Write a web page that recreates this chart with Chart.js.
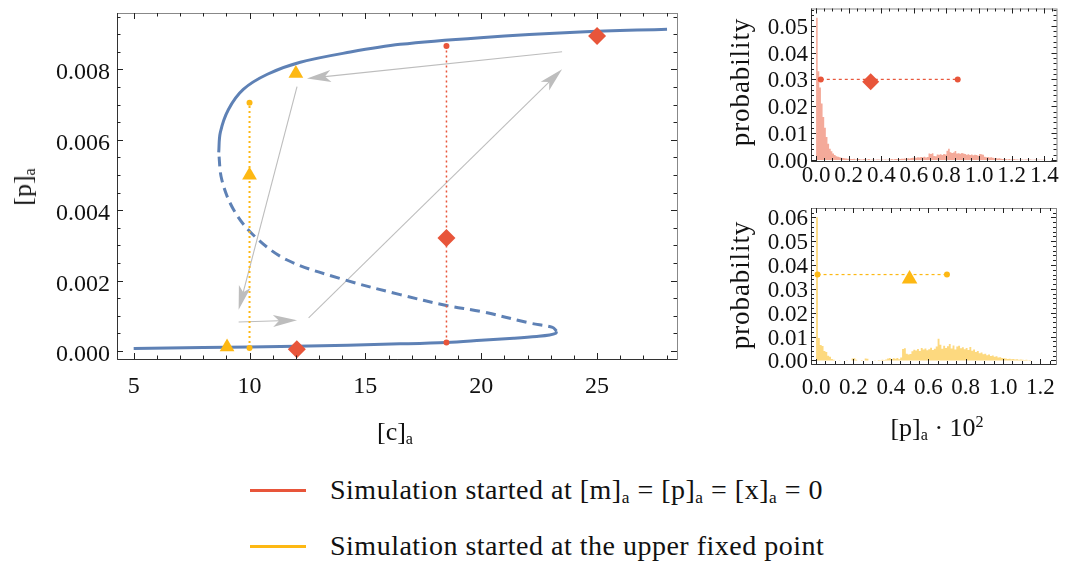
<!DOCTYPE html>
<html>
<head>
<meta charset="utf-8">
<script src="https://cdn.jsdelivr.net/npm/chart.js@4.4.0/dist/chart.umd.min.js"></script>
<style>
  body { margin: 0; background: #fff; }
  #wrap { position: relative; width: 1065px; height: 562px; overflow: hidden;
          font-family: "Liberation Serif", serif; color: #111; }
  canvas { position: absolute; }
  .lbl { position: absolute; font-size: 26px; white-space: nowrap; line-height: 1;
         transform: translate(-50%, -50%); }
  .rot { transform: translate(-50%, -50%) rotate(-90deg); }
  .prob { font-size: 27px; letter-spacing: 0.9px; }
  .tick { position: absolute; white-space: nowrap; line-height: 1; }
  sub { font-size: 0.62em; vertical-align: -0.25em; line-height: 0; }
  sup { font-size: 0.62em; vertical-align: 0.55em; line-height: 0; }
  .sw { position: absolute; left: 250px; width: 56px; height: 3px; }
  .leg { position: absolute; left: 330px; font-size: 28px; letter-spacing: 0.5px; white-space: nowrap;
         line-height: 1; transform: translateY(-50%); }
</style>
</head>
<body>
<div id="wrap">
  <canvas id="main" width="700" height="440" style="left:0;top:0"></canvas>
  <canvas id="histTop" width="345" height="200" style="left:720px;top:0"></canvas>
  <canvas id="histBot" width="345" height="250" style="left:720px;top:195px"></canvas>

  <div class="lbl rot" style="left:23px;top:187px">[p]<sub>a</sub></div>
  <div class="lbl" style="left:395px;top:432px">[c]<sub>a</sub></div>
  <div class="lbl rot prob" style="left:740px;top:82px">probability</div>
  <div class="lbl rot prob" style="left:740px;top:285px">probability</div>
  <div class="lbl" style="left:937px;top:428px">[p]<sub>a</sub> · 10<sup>2</sup></div>

  <div class="sw" style="top:489px;background:#E8553A"></div>
  <div class="leg" style="top:490px">Simulation started at [m]<sub>a</sub> = [p]<sub>a</sub> = [x]<sub>a</sub> = 0</div>
  <div class="sw" style="top:545px;background:#FDB813"></div>
  <div class="leg" style="top:546px">Simulation started at the upper fixed point</div>
</div>

<script>
// ---- data ----
const lowerBranch = [[5.0, 0.00007], [8.0, 0.0001], [12.0, 0.00013], [16.5, 0.0002], [18.5, 0.00024],
  [20.0, 0.0003], [21.4, 0.00036], [22.4, 0.00041], [22.95, 0.00045], [23.22, 0.0005], [23.25, 0.00056]];
const unstableBranch = [[23.25, 0.00056], [23.08, 0.00067], [22.1, 0.00079], [20.0, 0.00112],
  [18.5, 0.00129], [16.5, 0.0016], [14.05, 0.00203], [11.6, 0.00259], [10.15, 0.0033],
  [9.29, 0.00404], [8.8, 0.00487], [8.67, 0.00564]];
const upperBranch = [[8.67, 0.00564], [8.74, 0.00621], [9.09, 0.00686], [9.73, 0.00743],
  [10.77, 0.00786], [12.19, 0.0082], [14.35, 0.00849], [16.5, 0.00871], [19.96, 0.0089],
  [24.27, 0.00906], [28.02, 0.00914]];

const yellowTriangles = [[9.03, 0.00011], [10.0, 0.00499], [12.0, 0.00788]];
const yellowRange = [[10.0, 0.00008], [10.0, 0.00705]];
const redDiamonds = [[12.04, 0.00005], [18.5, 0.00321], [25.0, 0.00895]];
const redRange = [[18.5, 0.00024], [18.5, 0.00866]];

const arrowFrom = [[23.49, 0.0085], [12.05, 0.00751], [9.53, 0.00082], [12.55, 0.00094]];
const arrowTo   = [[12.48, 0.00774], [9.53, 0.00117], [12.05, 0.00087], [23.49, 0.0080]];

const mainXTicks = [5, 10, 15, 20, 25];
const mainYTicks = [0, 0.002, 0.004, 0.006, 0.008];

// histograms, bins of width 0.01 starting at 0
const BIN = 0.01;
const redHist = [
  0.053, 0.033, 0.027, 0.021, 0.016, 0.012, 0.0085, 0.006, 0.0042, 0.0032,
  0.0024, 0.0018, 0.0014, 0.0012, 0.0010, 0.0008, 0.0007, 0.0006, 0.0005, 0.0004,
  0.0004, 0.0003, 0.0003, 0.0004, 0.0002, 0.0003, 0.0003, 0.0002, 0.0002, 0.0003,
  0.0002, 0.0002, 0.0003, 0.0001, 0.0002, 0.0002, 0.0001, 0.0002, 0.0002, 0.0001,
  0.0002, 0.0001, 0.0002, 0.0001, 0.0002, 0.0002, 0.0003, 0.0002, 0.0003, 0.0003,
  0.0003, 0.0003, 0.0004, 0.0004, 0.0005, 0.0004, 0.0006, 0.0005, 0.0007, 0.0008,
  0.0009, 0.0008, 0.0010, 0.0009, 0.0011, 0.0010, 0.0012, 0.0009, 0.0011, 0.0024,
  0.0022, 0.0025, 0.0015, 0.0014, 0.0020, 0.0019, 0.0021, 0.0018, 0.0022, 0.0020,
  0.0034, 0.0042, 0.0029, 0.0026, 0.0028, 0.0033, 0.0024, 0.0025, 0.0023, 0.0026,
  0.0024, 0.0022, 0.0019, 0.0021, 0.0018, 0.0020, 0.0017, 0.0019, 0.0018, 0.0016,
  0.0022, 0.0021, 0.0019, 0.0012, 0.0010, 0.0011, 0.0009, 0.0010, 0.0008, 0.0006,
  0.0007, 0.0005, 0.0006, 0.0004, 0.0003, 0.0004, 0.0003, 0.0002, 0.0003, 0.0002,
  0.0002, 0.0003, 0.0002, 0.0002, 0.0001, 0.0002, 0.0002, 0.0001, 0.0002, 0.0002,
  0.0001, 0.0002, 0.0001, 0.0001, 0.0002, 0.0001, 0.0001, 0.0001, 0.0001, 0.0001,
  0.0001, 0, 0, 0, 0
];
const yellowHist = [
  0.060, 0.0094, 0.0065, 0.006, 0.004, 0.0035, 0.002, 0.0015, 0.0006, 0.0003,
  0, 0, 0.0001, 0, 0, 0, 0.0001, 0, 0, 0.0008,
  0.0009, 0.0003, 0, 0, 0.0002, 0, 0.0008, 0.0007, 0, 0,
  0, 0.0001, 0, 0.0002, 0.0001, 0.0003, 0.0002, 0.0004, 0.0008, 0.0010,
  0.0006, 0.0009, 0.0007, 0.0010, 0.0005, 0.0012, 0.0048, 0.0051, 0.0028, 0.0025,
  0.0027, 0.0038, 0.0045, 0.0042, 0.0048, 0.0040, 0.0052, 0.0046, 0.0050, 0.0043,
  0.0047, 0.0053, 0.0044, 0.0049, 0.0058, 0.0091, 0.0066, 0.0049, 0.0061, 0.0052,
  0.0059, 0.0069, 0.0050, 0.0063, 0.0046, 0.0058, 0.0062, 0.0051, 0.0055, 0.0047,
  0.0052, 0.0044, 0.0056, 0.0041, 0.0046, 0.0035, 0.0039, 0.0030, 0.0033, 0.0026,
  0.0028, 0.0022, 0.0025, 0.0019, 0.0021, 0.0015, 0.0017, 0.0012, 0.0013, 0.0010,
  0.0009, 0.0008, 0.0006, 0.0007, 0.0005, 0.0006, 0.0004, 0.0005, 0.0003, 0.0004,
  0.0003, 0.0002, 0.0003, 0.0001, 0.0002, 0, 0, 0, 0, 0,
  0, 0, 0, 0, 0, 0, 0, 0
];
const redStats = [[0.029, 0.030], [0.869, 0.030]];
const redMean = [[0.335, 0.0291]];
const yellowStats = [[0.008, 0.036], [0.70, 0.036]];
const yellowMean = [[0.50, 0.0341]];

const topXTicks = [0, 0.2, 0.4, 0.6, 0.8, 1.0, 1.2, 1.4];
const topYTicks = [0, 0.01, 0.02, 0.03, 0.04, 0.05];
const botXTicks = [0, 0.2, 0.4, 0.6, 0.8, 1.0, 1.2];
const botYTicks = [0, 0.01, 0.02, 0.03, 0.04, 0.05, 0.06];

// ---- colours ----
const BLUE = "#5E81B5", RED = "#E8553A", YELLOW = "#FDB813", GRAY = "#BDBDBD";

const pts = arr => arr.map(p => ({ x: p[0], y: p[1] }));

// frame with inward ticks on all four sides (Mathematica style)
const framePlugin = {
  id: "frame",
  afterDraw(chart, args, o) {
    const { ctx, chartArea: a, scales: { x, y } } = chart;
    ctx.save();
    ctx.lineWidth = 1;
    ctx.strokeStyle = "#888";
    ctx.strokeRect(a.left + 0.5, a.top + 0.5, a.right - a.left, a.bottom - a.top);
    ctx.strokeStyle = "#333";
    ctx.beginPath();
    ctx.moveTo(a.left + 0.5, a.top); ctx.lineTo(a.left + 0.5, a.bottom + 0.5);
    ctx.lineTo(a.right, a.bottom + 0.5);
    ctx.stroke();

    ctx.strokeStyle = "#222";
    const tx = (v, len) => {
      const p = Math.round(x.getPixelForValue(v)) + 0.5;
      ctx.moveTo(p, a.bottom); ctx.lineTo(p, a.bottom - len);
      ctx.moveTo(p, a.top); ctx.lineTo(p, a.top + len);
    };
    const ty = (v, len) => {
      const p = Math.round(y.getPixelForValue(v)) + 0.5;
      ctx.moveTo(a.left, p); ctx.lineTo(a.left + len, p);
      ctx.moveTo(a.right, p); ctx.lineTo(a.right - len, p);
    };
    ctx.beginPath();
    for (let i = Math.ceil(x.min / o.xMinor); i * o.xMinor <= x.max; i++) tx(i * o.xMinor, o.minor);
    for (let i = Math.ceil(y.min / o.yMinor); i * o.yMinor <= y.max; i++) ty(i * o.yMinor, o.minor);
    x.ticks.forEach(t => tx(t.value, o.major));
    y.ticks.forEach(t => ty(t.value, o.major));
    ctx.stroke();
    ctx.restore();
  }
};

// tick labels as serif page text, placed from the chart's own scales
const tickLabels = {
  id: "tickLabels",
  afterRender(chart, args, o) {
    if (chart.$labelsDone) return;
    chart.$labelsDone = true;
    const wrap = document.getElementById("wrap");
    const cv = chart.canvas;
    const ox = cv.offsetLeft, oy = cv.offsetTop;
    const a = chart.chartArea, x = chart.scales.x, y = chart.scales.y;
    const add = (txt, left, top, tf) => {
      const d = document.createElement("div");
      d.className = "tick";
      d.style.left = left + "px";
      d.style.top = top + "px";
      d.style.fontSize = o.size + "px";
      d.style.transform = tf;
      d.textContent = txt;
      wrap.appendChild(d);
    };
    x.ticks.forEach(t => add(t.value.toFixed(o.xDigits), ox + x.getPixelForValue(t.value),
      oy + a.bottom + o.xMid, "translate(-50%, -50%)"));
    y.ticks.forEach(t => add(t.value.toFixed(o.yDigits), ox + a.left - o.yGap,
      oy + y.getPixelForValue(t.value) + o.yShift, "translate(-100%, -50%)"));
  }
};

// gray arrows of the hysteresis loop
const arrowPlugin = {
  id: "arrows",
  beforeDatasetsDraw(chart) {
    const { ctx, scales: { x, y } } = chart;
    ctx.save();
    ctx.strokeStyle = GRAY;
    ctx.fillStyle = GRAY;
    ctx.lineWidth = 1.1;
    arrowFrom.forEach((f, i) => {
      const t = arrowTo[i];
      const x1 = x.getPixelForValue(f[0]), y1 = y.getPixelForValue(f[1]);
      const x2 = x.getPixelForValue(t[0]), y2 = y.getPixelForValue(t[1]);
      const ang = Math.atan2(y2 - y1, x2 - x1);
      const L = 24, W = 6, N = 6;
      ctx.beginPath();
      ctx.moveTo(x1, y1);
      ctx.lineTo(x2 - Math.cos(ang) * (L - N), y2 - Math.sin(ang) * (L - N));
      ctx.stroke();
      ctx.save();
      ctx.translate(x2, y2);
      ctx.rotate(ang);
      ctx.beginPath();
      ctx.moveTo(0, 0);
      ctx.lineTo(-L, -W);
      ctx.lineTo(-L + N, 0);
      ctx.lineTo(-L, W);
      ctx.closePath();
      ctx.fill();
      ctx.restore();
    });
    ctx.restore();
  }
};

function axis(min, max, ticks, fitKey, fitVal) {
  return {
    type: "linear", min: min, max: max,
    grid: { display: false, drawTicks: false },
    border: { display: false },
    ticks: { display: false },
    afterBuildTicks: s => { s.ticks = ticks.map(v => ({ value: v })); },
    afterFit: s => { s[fitKey] = fitVal; }
  };
}

const curve = (arr, dash) => ({
  data: pts(arr), showLine: true, borderColor: BLUE, borderWidth: 3,
  borderDash: dash, tension: 0.35, pointRadius: 0, order: 5
});

new Chart(document.getElementById("main"), {
  type: "scatter",
  data: {
    datasets: [
      curve(lowerBranch, []),
      curve(unstableBranch, [10, 6]),
      curve(upperBranch, []),
      { data: pts(yellowRange), showLine: true, borderColor: YELLOW, borderWidth: 2,
        borderDash: [2, 3], pointRadius: 3, pointBackgroundColor: YELLOW, pointBorderWidth: 0, order: 4 },
      { data: pts(redRange), showLine: true, borderColor: RED, borderWidth: 1.5,
        borderDash: [2, 3], pointRadius: 3, pointBackgroundColor: RED, pointBorderWidth: 0, order: 4 },
      { data: pts(yellowTriangles), pointStyle: "triangle", pointRadius: 8.5,
        pointBackgroundColor: YELLOW, pointBorderWidth: 0, order: 1 },
      { data: pts(redDiamonds), pointStyle: "rectRot", pointRadius: 9,
        pointBackgroundColor: RED, pointBorderWidth: 0, order: 1 }
    ]
  },
  options: {
    responsive: false, animation: false,
    layout: { padding: { top: 13, right: 23, left: 0, bottom: 0 } },
    plugins: { legend: { display: false }, tooltip: { enabled: false },
      frame: { xMinor: 1, yMinor: 0.0005, major: 6, minor: 3.5 },
      tickLabels: { size: 24, xDigits: 0, yDigits: 3, xMid: 26, yGap: 7, yShift: 2 } },
    scales: {
      x: axis(4.28, 28.45, mainXTicks, "height", 81),
      y: axis(-0.00023, 0.0096, mainYTicks, "width", 117)
    }
  },
  plugins: [framePlugin, arrowPlugin, tickLabels]
});

function histChart(id, bins, fill, color, stats, mean, meanStyle, xr, yr, xt, yt, top, xh, xMid) {
  const steps = bins.map((v, i) => ({ x: i * BIN, y: v }));
  steps.push({ x: bins.length * BIN, y: 0 });
  return new Chart(document.getElementById(id), {
    type: "scatter",
    data: {
      datasets: [
        { data: steps, showLine: true, stepped: true, fill: "origin", backgroundColor: fill,
          borderWidth: 0, pointRadius: 0, order: 5 },
        { data: pts(stats), showLine: true, borderColor: color, borderWidth: 1.2,
          borderDash: [3, 3], pointRadius: 3, pointBackgroundColor: color, pointBorderWidth: 0, order: 2 },
        { data: pts(mean), pointStyle: meanStyle, pointRadius: meanStyle === "triangle" ? 9 : 8.5,
          pointBackgroundColor: color, pointBorderWidth: 0, order: 1 }
      ]
    },
    options: {
      responsive: false, animation: false,
      layout: { padding: { top: top, right: 3, left: 0, bottom: 0 } },
      plugins: { legend: { display: false }, tooltip: { enabled: false },
        frame: { xMinor: 0.05, yMinor: 0.002, major: 5, minor: 3 },
        tickLabels: { size: 23, xDigits: 1, yDigits: 2, xMid: xMid, yGap: 3, yShift: 0 } },
      scales: {
        x: axis(xr[0], xr[1], xt, "height", xh),
        y: axis(yr[0], yr[1], yt, "width", 91)
      }
    },
    plugins: [framePlugin, tickLabels]
  });
}

histChart("histTop", redHist, "#F4AA9A", RED, redStats, redMean, "rectRot",
  [-0.031, 1.475], [-0.0004, 0.0564], topXTicks, topYTicks, 5, 39, 13);
histChart("histBot", yellowHist, "#FDD97F", YELLOW, yellowStats, yellowMean, "triangle",
  [-0.027, 1.283], [-0.0015, 0.0639], botXTicks, botYTicks, 13, 81, 22);
</script>
</body>
</html>
